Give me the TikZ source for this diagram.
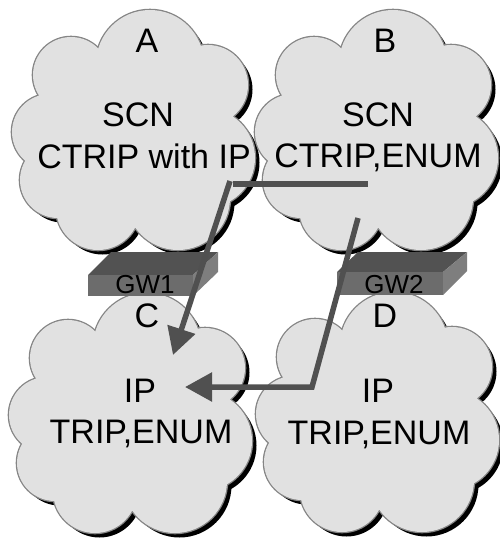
\documentclass[tikz,border=0pt]{standalone}
\usepackage{fontspec}
\setmainfont{Liberation Sans}
\usetikzlibrary{arrows.meta}

\definecolor{cloudfill}{HTML}{E1E1E1}
\definecolor{cloudrim}{HTML}{858585}
\definecolor{linkgray}{HTML}{505050}
\definecolor{gwtop}{HTML}{525252}
\definecolor{gwfront}{HTML}{6C6C6C}
\definecolor{gwside}{HTML}{7E7E7E}

% puffs of one cloud, relative to its centre (y grows downwards)
\newcommand\puffpath{(17,-66) circle (54pt) (75,-45) circle (40pt)
  (72,28) circle (50pt) (45,68) circle (52pt) (-35,78) circle (42pt)
  (-75,50) circle (38pt) (-83,2) circle (38pt) (-62,-55) circle (38pt)}

% cloud with black drop shadow and thin grey rim
\newcommand\netcloud[2]{%
  \begin{scope}[shift={(#1,#2)}]
    \fill[black,shift={(4.5,4.5)}] \puffpath (0,0) circle (82pt);
    \draw[cloudrim,line width=2.6pt] \puffpath;
    \fill[cloudfill] \puffpath (0,0) circle (82pt);
  \end{scope}}

\tikzset{
  lbl/.style={font=\fontsize{34}{40}\selectfont, inner sep=0pt, anchor=base},
  gwlbl/.style={font=\fontsize{26}{30}\selectfont, inner sep=0pt, anchor=base},
  link/.style={draw=linkgray, line width=5.5pt},
  arrowend/.style={-{Triangle[length=27pt,width=28pt]}},
}

\begin{document}
\begin{tikzpicture}[x=1pt,y=-1pt]
\useasboundingbox (0,0) rectangle (500,539);

% the four networks
\netcloud{133}{130}
\netcloud{376}{130}
\netcloud{130}{413}
\netcloud{377}{412}

% gateway GW1
\fill[gwtop] (88,275) -- (193,275) -- (218,252) -- (111,252) -- cycle;
\fill[gwside] (193,275) -- (218,252) -- (218,272) -- (193,296) -- cycle;
\fill[gwfront] (88,275) rectangle (193,296);
% gateway GW2
\fill[gwtop] (337,272) -- (443,272) -- (467,252) -- (358,252) -- cycle;
\fill[gwside] (443,272) -- (467,252) -- (467,271) -- (443,295) -- cycle;
\fill[gwfront] (337,272) rectangle (443,295);

% labels
\node[lbl] (tA)  at (147,52)  {A};
\node[lbl] (sA)  at (138,126) {SCN};
\node[lbl] (pA)  at (144,168) {CTRIP with IP};
\node[lbl] (tB)  at (385,52)  {B};
\node[lbl] (sB)  at (378,126) {SCN};
\node[lbl] (pB)  at (378,167) {CTRIP,ENUM};
\node[lbl] (tC)  at (147,327) {C};
\node[lbl] (sC)  at (140,402) {IP};
\node[lbl] (pC)  at (141,443) {TRIP,ENUM};
\node[lbl] (tD)  at (385,327) {D};
\node[lbl] (sD)  at (378,402) {IP};
\node[lbl] (pD)  at (379,444) {TRIP,ENUM};
\node[gwlbl] (gw1) at (145,293) {GW1};
\node[gwlbl] (gw2) at (394,293) {GW2};

% routing connectors
\coordinate (a1) at (233,184);
\coordinate (a2) at (230,181);
\coordinate (b1) at (368,184);
\coordinate (c1) at (173,355);
\coordinate (b2) at (358,218);
\coordinate (d1) at (312,387);
\coordinate (c2) at (185,387);

\draw[link] (a1) -- (b1);
\draw[link,arrowend] (a2) -- (c1);
\draw[link,arrowend,miter limit=4] (b2) -- (d1) -- (c2);
\end{tikzpicture}
\end{document}
